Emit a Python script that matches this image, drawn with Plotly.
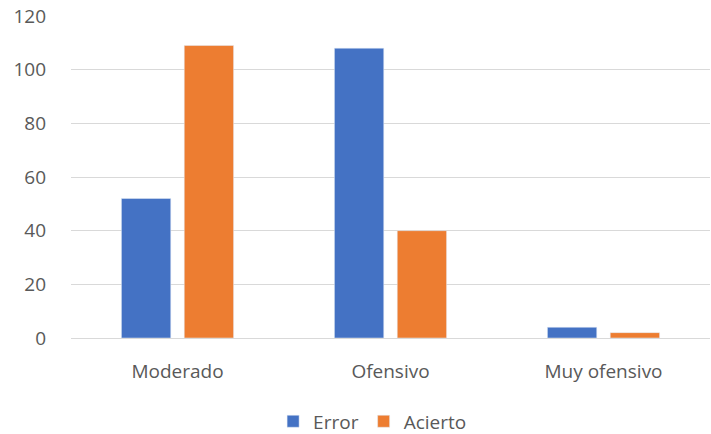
import plotly.graph_objects as go

categories = ["Moderado", "Ofensivo", "Muy ofensivo"]
error_vals = [52, 108, 4]
acierto_vals = [109, 40, 2]
y_ticks = [0, 20, 40, 60, 80, 100, 120]

font_family = "Open Sans, sans-serif"
grey = "#595959"

fig = go.Figure()
fig.add_trace(go.Bar(name="Error", x=categories, y=error_vals, marker_color="#4472C4"))
fig.add_trace(go.Bar(name="Acierto", x=categories, y=acierto_vals, marker_color="#ED7D31"))

fig.update_layout(
    width=711, height=434,
    margin=dict(l=71, r=1, t=16, b=96, autoexpand=False),
    paper_bgcolor="white", plot_bgcolor="white",
    barmode="group", bargap=0.41, bargroupgap=0.215,
    font=dict(family=font_family, size=19, color=grey),
    showlegend=True,
    legend=dict(orientation="h", x=0.472, xanchor="center", y=-0.2, yanchor="top",
                font=dict(size=19, color=grey), itemwidth=30),
    xaxis=dict(showgrid=False, showline=True, linecolor="#d9d9d9", linewidth=1,
               automargin=False,
               ticks="", ticklabelstandoff=16, tickfont=dict(size=19, color=grey)),
    yaxis=dict(range=[0, 120], tickvals=y_ticks, showgrid=True, gridcolor="#d9d9d9",
               gridwidth=1, zeroline=False, showline=False, ticks="", automargin=False,
               ticklabelstandoff=24, tickfont=dict(size=19, color=grey)),
)

fig.write_html("out.html")
